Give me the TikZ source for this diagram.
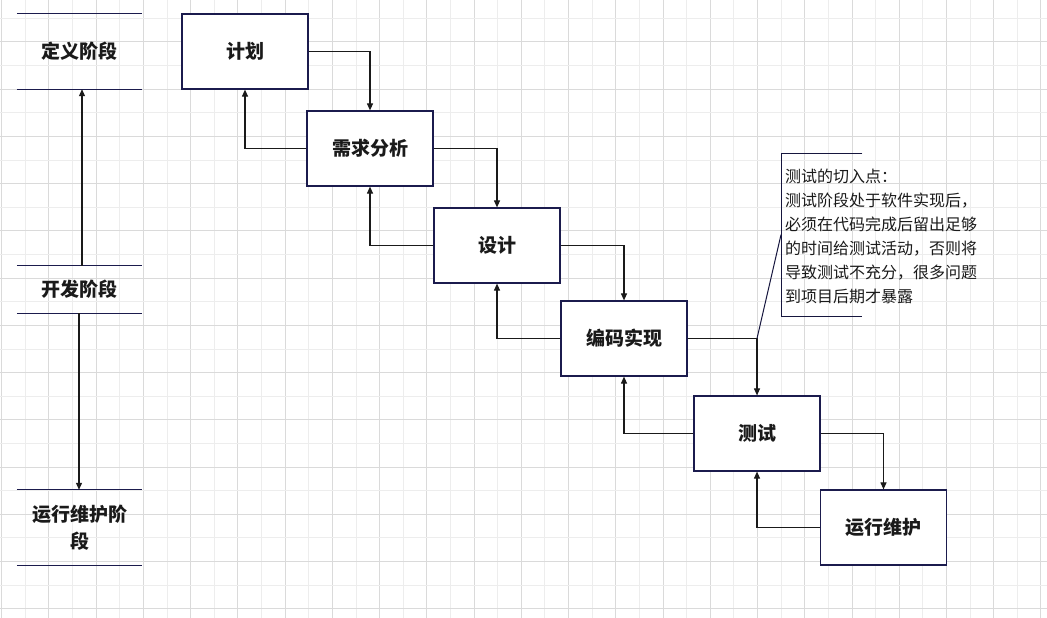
\documentclass[tikz,border=0pt]{standalone}
\usepackage{fontspec}
\newfontfamily\cjk{Noto Sans CJK SC}
\usetikzlibrary{arrows.meta}
\definecolor{navy}{HTML}{1B1B4D}
\definecolor{ink}{HTML}{1A1A1A}
\definecolor{gridD}{HTML}{DADADA}
\definecolor{gridL}{HTML}{EDEDED}
\tikzset{
  box/.style={draw=navy, line width=1.2pt, fill=white, minimum width=126pt, minimum height=75pt, inner sep=0pt, font=\cjk\bfseries\fontsize{19}{24}\selectfont, text=ink},
  stage/.style={minimum width=125pt, inner sep=0pt, font=\cjk\bfseries\fontsize{19}{26.5}\selectfont, text=ink, align=center},
  stageline/.style={draw=navy, line width=1.2pt},
  arr/.style={draw=ink, line width=1.1pt, -{Triangle[length=7pt,width=6pt]}},
  plain/.style={draw=ink, line width=1.1pt},
}
\begin{document}
\begin{tikzpicture}[x=1pt,y=-1pt]
\useasboundingbox (0,0) rectangle (1047,618);
\fill[white] (0,0) rectangle (1047,618);
% grid
\foreach \k in {0,...,44} {
  \pgfmathsetmacro\xx{1.7+23.62*\k}
  \pgfmathtruncatemacro\ev{mod(\k,2)}
  \ifnum\ev=0 \draw[gridD, line width=1pt] (\xx,0) -- (\xx,618);
  \else \draw[gridL, line width=1pt] (\xx,0) -- (\xx,618); \fi
}
\foreach \k in {0,...,26} {
  \pgfmathsetmacro\yy{-5.3+23.62*\k}
  \pgfmathtruncatemacro\ev{mod(\k,2)}
  \ifnum\ev=0 \draw[gridD, line width=1pt] (0,\yy) -- (1047,\yy);
  \else \draw[gridL, line width=1pt] (0,\yy) -- (1047,\yy); \fi
}
% stages
\node[stage, minimum height=75pt] (s1) at (79.5,51.5) {定义阶段};
\node[stage, minimum height=47pt] (s2) at (79.5,289.5) {开发阶段};
\node[stage, minimum height=75pt] (s3) at (79.5,527.5) {运行维护阶\\段};
\foreach \s in {s1,s2,s3} {
  \draw[stageline] (\s.north west) -- (\s.north east);
  \draw[stageline] (\s.south west) -- (\s.south east);
}
\draw[arr] ([xshift=2.5pt]s2.north) -- ([xshift=2.5pt]s1.south);
\draw[arr] ([xshift=-0.5pt]s2.south) -- ([xshift=-0.5pt]s3.north);
% boxes
\node[box] (jh) at (245,51.5) {计划};
\node[box] (xq) at (370,148.5) {需求分析};
\node[box] (sj) at (497,245.5) {设计};
\node[box] (bm) at (624,338.5) {编码实现};
\node[box] (cs) at (757,433.5) {测试};
\node[box] (yw) at (883.5,527.5) {运行维护};
% connectors
\draw[arr] (jh.east) -| (xq.north);
\draw[arr] (xq.west) -| (jh.south);
\draw[arr] (xq.east) -| (sj.north);
\draw[arr] (sj.west) -| (xq.south);
\draw[arr] (sj.east) -| (bm.north);
\draw[arr] (bm.west) -| (sj.south);
\draw[arr] (bm.east) -| (cs.north);
\draw[arr] (cs.west) -| (bm.south);
\draw[arr] (cs.east) -| (yw.north);
\draw[arr] (yw.west) -| (cs.south);
% callout
\coordinate (co) at (cs.north |- bm.east);
\node[minimum width=81pt, minimum height=163pt, inner sep=0pt, anchor=north west] (cal) at (781,153) {};
\draw[draw=navy!80!black, line width=1pt] (cal.north east) -- (cal.north west) -- (cal.south west) -- (cal.south east);
\draw[draw=navy!80!black, line width=1pt] (co) -- (cal.west);
\node[anchor=north west, inner sep=0pt, align=left, text=ink, font=\cjk\fontsize{16}{24}\selectfont] (ct) at (785,169)
{测试的切入点：\\测试阶段处于软件实现后，\\必须在代码完成后留出足够\\的时间给测试活动，否则将\\导致测试不充分，很多问题\\到项目后期才暴露};
\end{tikzpicture}
\end{document}
